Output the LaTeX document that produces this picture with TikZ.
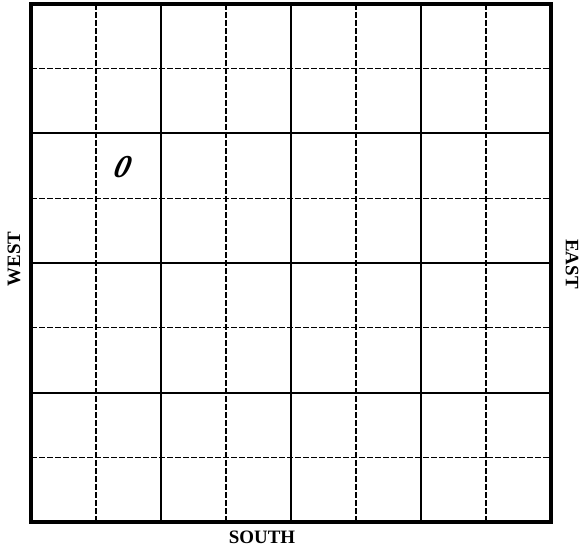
\documentclass[tikz,border=0pt]{standalone}
\usepackage{fontspec}
\setmainfont{Liberation Serif}
\usetikzlibrary{positioning}

\begin{document}
\begin{tikzpicture}[x=1bp, y=-1bp,
    frame/.style={line width=3.2bp},
    major/.style={line width=2bp},
    minor/.style={line width=1.4bp, dash pattern=on 6bp off 2bp},
    side/.style={font=\fontsize{19}{19}\selectfont\bfseries}]

    \useasboundingbox (0,0) rectangle (583,548);

    % Grid: solid and dashed lines alternate
    \foreach \i in {1,3,5,7} {
        \draw[minor] ({31+65*\i},4) -- ({31+65*\i},522);
        \draw[minor] (31,{4+64.75*\i}) -- (551,{4+64.75*\i});
    }
    \foreach \i in {2,4,6} {
        \draw[major] ({31+65*\i},4) -- ({31+65*\i},522);
        \draw[major] (31,{4+64.75*\i}) -- (551,{4+64.75*\i});
    }

    % Outer frame
    \draw[frame] (31,4) rectangle (551,522);

    % Labels
    \node[side, rotate=90] (west) at (14,259) {WEST};
    \node[side, rotate=-90] (east) at (572,264) {EAST};
    \node[side] (south) at (262,537) {SOUTH};

    % Mark
    \node[font=\fontsize{32}{32}\selectfont\itshape\bfseries, xslant=0.25] (mark) at (123,167) {0};
\end{tikzpicture}
\end{document}
